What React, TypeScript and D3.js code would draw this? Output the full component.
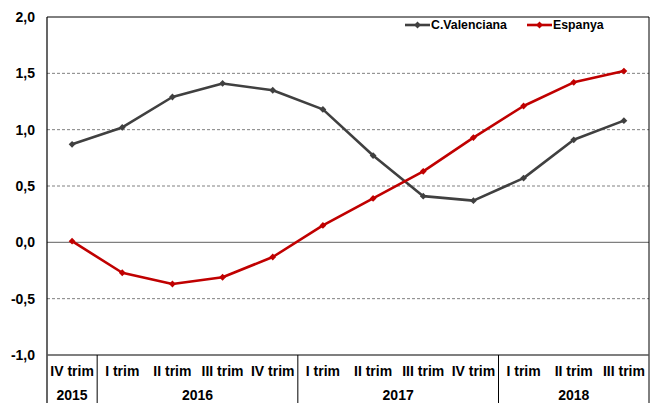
import React from "react";
import * as d3 from "d3";

const quarters = ["IV trim", "I trim", "II trim", "III trim", "IV trim", "I trim", "II trim", "III trim", "IV trim", "I trim", "II trim", "III trim"];
const years = [
  { label: "2015", start: 0, end: 1 },
  { label: "2016", start: 1, end: 5 },
  { label: "2017", start: 5, end: 9 },
  { label: "2018", start: 9, end: 12 },
];
const valenciana = [0.87, 1.02, 1.29, 1.41, 1.35, 1.18, 0.77, 0.41, 0.37, 0.57, 0.91, 1.08];
const espanya = [0.01, -0.27, -0.37, -0.31, -0.13, 0.15, 0.39, 0.63, 0.93, 1.21, 1.42, 1.52];
const yTicks = [2.0, 1.5, 1.0, 0.5, 0.0, -0.5, -1.0];
const seriesNames = ["C.Valenciana", "Espanya"];

const W = 657, H = 403;
const L = 47, R = 649, T = 17, B = 355;
const FONT = "'Liberation Sans Narrow', 'Arial Narrow', 'Liberation Sans', sans-serif";

export default function App() {
  const x = d3.scaleBand<number>().domain(d3.range(quarters.length)).range([L, R]);
  const y = d3.scaleLinear().domain([-1, 2]).range([B, T]);
  const cx = (i: number) => (x(i) as number) + x.bandwidth() / 2;
  const line = d3.line<number>().x((_, i) => cx(i)).y((d) => y(d));
  const fmt = (v: number) => v.toFixed(1).replace(".", ",");
  const series = [
    { name: seriesNames[0], data: valenciana, color: "#404040" },
    { name: seriesNames[1], data: espanya, color: "#C00000" },
  ];
  const diamond = (px: number, py: number, s = 3.4) =>
    `M${px},${py - s}L${px + s},${py}L${px},${py + s}L${px - s},${py}Z`;

  return (
    <svg width={W} height={H} style={{ position: "absolute", left: 0, top: 0, background: "#fff" }}>
      {/* gridlines */}
      {yTicks.map((t) =>
        t === 0 ? (
          <line key={t} x1={L} x2={R} y1={y(t)} y2={y(t)} stroke="#7f7f7f" strokeWidth={1.3} />
        ) : t === 2 ? null : t === -1 ? null : (
          <line key={t} x1={L} x2={R} y1={y(t)} y2={y(t)} stroke="#808080" strokeWidth={1} strokeDasharray="3,2" />
        )
      )}
      {/* plot border */}
      <line x1={L} x2={R} y1={T} y2={T} stroke="#000" strokeWidth={1} />
      <line x1={L} x2={L} y1={T} y2={H} stroke="#000" strokeWidth={1.2} />
      <line x1={R} x2={R} y1={T} y2={H} stroke="#000" strokeWidth={1} />
      <line x1={L} x2={R} y1={B} y2={B} stroke="#555" strokeWidth={1.6} />
      {/* y labels */}
      {yTicks.map((t) => (
        <text key={t} x={35} y={y(t)} dy="0.35em" textAnchor="end" fontFamily={FONT} fontWeight="bold" fontSize={14} fill="#000">
          {fmt(t)}
        </text>
      ))}
      {/* category table */}
      {years.map((g) =>
        g.start > 0 ? (
          <line key={"s" + g.label} x1={x(g.start)} x2={x(g.start)} y1={B} y2={H} stroke="#000" strokeWidth={1} />
        ) : null
      )}
      {quarters.map((q, i) => (
        <text key={"q" + i} x={cx(i)} y={376} textAnchor="middle" fontFamily={FONT} fontWeight="bold" fontSize={14} fill="#000">
          {q}
        </text>
      ))}
      {years.map((g) => {
        const x0 = x(g.start) as number;
        const x1 = g.end >= quarters.length ? R : (x(g.end) as number);
        return (
          <text key={"y" + g.label} x={(x0 + x1) / 2} y={400} textAnchor="middle" fontFamily={FONT} fontWeight="bold" fontSize={14} fill="#000">
            {g.label}
          </text>
        );
      })}
      {/* series */}
      {series.map((s) => (
        <g key={s.name}>
          <path d={line(s.data) || ""} fill="none" stroke={s.color} strokeWidth={2.6} strokeLinejoin="round" />
          {s.data.map((v, i) => (
            <path key={i} d={diamond(cx(i), y(v))} fill={s.color} />
          ))}
        </g>
      ))}
      {/* legend */}
      {series.map((s, k) => {
        const lx = k === 0 ? 405 : 527;
        const ly = 25;
        return (
          <g key={"lg" + s.name}>
            <line x1={lx} x2={lx + 25} y1={ly} y2={ly} stroke={s.color} strokeWidth={2.6} />
            <path d={diamond(lx + 12.5, ly)} fill={s.color} />
            <text x={lx + 26} y={ly} dy="0.35em" fontFamily={FONT} fontWeight="bold" fontSize={12.3} fill="#000">
              {s.name}
            </text>
          </g>
        );
      })}
    </svg>
  );
}
